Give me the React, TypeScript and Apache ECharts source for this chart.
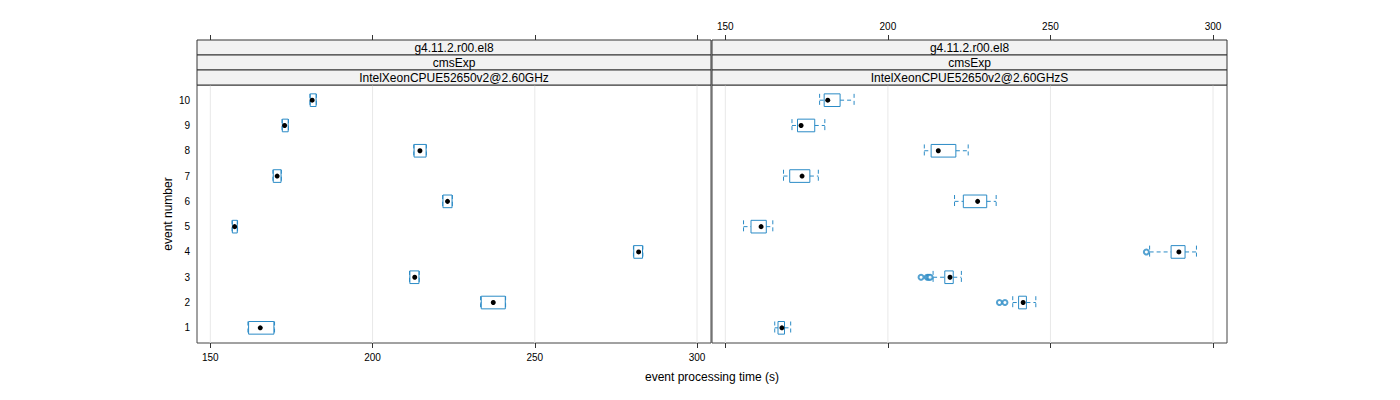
import React, { useEffect, useRef } from 'react';
import * as echarts from 'echarts';

const events = [1, 2, 3, 4, 5, 6, 7, 8, 9, 10];
const stripRows = ['g4.11.2.r00.el8', 'cmsExp'];
const panelNames = ['IntelXeonCPUE52650v2@2.60GHz', 'IntelXeonCPUE52650v2@2.60GHzS'];
const xTicks = [150, 200, 250, 300];
const xTitle = 'event processing time (s)';
const yTitle = 'event number';

// per event: [low whisker, q1, median, q3, high whisker]
const panel1Stats = [
  [161.6, 161.8, 165.4, 169.6, 169.8],
  [233.3, 233.5, 237.2, 240.9, 241.0],
  [211.4, 211.5, 213.0, 214.3, 214.4],
  [280.4, 280.5, 282.0, 283.2, 283.3],
  [156.7, 156.8, 157.5, 158.3, 158.4],
  [221.6, 221.7, 223.1, 224.5, 224.6],
  [169.3, 169.4, 170.6, 171.8, 171.9],
  [212.7, 212.8, 214.6, 216.5, 216.6],
  [172.1, 172.2, 172.9, 174.0, 174.1],
  [180.7, 180.8, 181.4, 182.6, 182.7],
];
const panel2Stats = [
  [165.2, 166.2, 167.4, 168.2, 170.1],
  [238.4, 240.2, 241.6, 242.6, 245.5],
  [213.9, 217.5, 219.1, 220.1, 222.6],
  [280.5, 287.1, 289.5, 291.4, 294.9],
  [155.6, 157.9, 161.0, 162.6, 164.6],
  [220.5, 223.2, 227.6, 230.4, 233.3],
  [167.9, 169.8, 173.6, 176.0, 178.6],
  [211.2, 213.3, 215.5, 220.9, 224.7],
  [170.5, 172.2, 173.3, 177.5, 180.6],
  [179.0, 180.4, 181.5, 185.3, 189.6],
];
// [value, event]
const panel2Outliers = [
  [234.3, 2], [236.0, 2],
  [210.2, 3], [212.1, 3], [212.6, 3], [213.0, 3],
  [279.5, 4],
];

const XMIN = 145.9;
const XMAX = 304.3;
const YMIN = 0.4;
const YMAX = 10.6;
const BLUE = '#2b8bc6';
const FONT = '"Liberation Sans", Arial, Helvetica, sans-serif';

const GRID_TOP = 85;
const GRID_H = 258;
const PANELS = [
  { left: 197, width: 514 },
  { left: 712, width: 515 },
];
const STRIP_TOP = 40;
const STRIP_H = 15;

function renderBox(params: any, api: any) {
  const ev = api.value(0);
  const lo = api.coord([api.value(1), ev]);
  const q1 = api.coord([api.value(2), ev]);
  const md = api.coord([api.value(3), ev]);
  const q3 = api.coord([api.value(4), ev]);
  const hi = api.coord([api.value(5), ev]);
  const h = api.size([0, 0.5])[1];
  const y = md[1];
  const dash = { stroke: BLUE, lineWidth: 1, lineDash: [4, 3], fill: 'none' };
  return {
    type: 'group',
    children: [
      { type: 'line', shape: { x1: lo[0], y1: y, x2: q1[0], y2: y }, style: dash },
      { type: 'line', shape: { x1: q3[0], y1: y, x2: hi[0], y2: y }, style: dash },
      { type: 'line', shape: { x1: lo[0], y1: y - h / 2, x2: lo[0], y2: y + h / 2 }, style: dash },
      { type: 'line', shape: { x1: hi[0], y1: y - h / 2, x2: hi[0], y2: y + h / 2 }, style: dash },
      {
        type: 'rect',
        shape: { x: q1[0], y: y - h / 2, width: q3[0] - q1[0], height: h },
        style: { fill: 'none', stroke: BLUE, lineWidth: 1 },
      },
      { type: 'circle', shape: { cx: md[0], cy: y, r: 2.5 }, style: { fill: '#000' } },
    ],
  };
}

function renderGridLine(params: any, api: any) {
  const v = api.value(0);
  const p1 = api.coord([v, api.value(1)]);
  const p2 = api.coord([v, api.value(2)]);
  return {
    type: 'line',
    shape: { x1: p1[0], y1: p1[1], x2: p2[0], y2: p2[1] },
    style: { stroke: '#e8e8e8', lineWidth: 1 },
  };
}

export default function App() {
  const ref = useRef<HTMLDivElement>(null);
  useEffect(() => {
    document.body.style.margin = '0';
    if (!ref.current) return;
    const chart = echarts.init(ref.current, null, { renderer: 'svg' });

    const grid = PANELS.map((p) => ({
      left: p.left,
      top: GRID_TOP,
      width: p.width,
      height: GRID_H,
      show: true,
      borderColor: '#444',
      borderWidth: 1,
      backgroundColor: 'transparent',
      containLabel: false,
      outerBoundsMode: 'none',
    }));

    const xAxis: any[] = [];
    PANELS.forEach((p, g) => {
      const base = {
        type: 'value',
        gridIndex: g,
        min: XMIN,
        max: XMAX,
        axisLine: { show: false },
        splitLine: { show: false },
        axisTick: { show: true, customValues: xTicks, length: 5, lineStyle: { color: '#333' } },
      };
      xAxis.push({
        ...base,
        position: 'bottom',
        axisLabel: { show: g === 0, customValues: xTicks, fontSize: 10, color: '#000', margin: 9, fontFamily: FONT },
      });
      xAxis.push({
        ...base,
        position: 'top',
        offset: GRID_TOP - STRIP_TOP,
        axisLabel: { show: g === 1, customValues: xTicks, fontSize: 10, color: '#000', margin: 9, fontFamily: FONT },
      });
    });

    const yAxis = PANELS.map((p, g) => ({
      type: 'value',
      gridIndex: g,
      min: YMIN,
      max: YMAX,
      axisLine: { show: false },
      axisTick: { show: false },
      splitLine: { show: false },
      axisLabel: { show: g === 0, customValues: events, fontSize: 10, color: '#000', margin: 7, fontFamily: FONT },
    }));

    const gridLineData = xTicks.map((v) => [v, YMIN, YMAX]);
    const series: any[] = [];
    [panel1Stats, panel2Stats].forEach((stats, g) => {
      series.push({
        type: 'custom',
        xAxisIndex: g * 2,
        yAxisIndex: g,
        renderItem: renderGridLine,
        data: gridLineData,
        encode: { x: 0, y: [1, 2] },
        z: 1,
        silent: true,
      });
      series.push({
        type: 'custom',
        xAxisIndex: g * 2,
        yAxisIndex: g,
        renderItem: renderBox,
        data: stats.map((s, i) => [events[i], ...s]),
        encode: { x: [1, 2, 3, 4, 5], y: 0 },
        z: 3,
      });
    });
    series.push({
      type: 'scatter',
      xAxisIndex: 2,
      yAxisIndex: 1,
      data: panel2Outliers,
      symbol: 'emptyCircle',
      symbolSize: 5,
      itemStyle: { color: BLUE, borderColor: BLUE, borderWidth: 1 },
      z: 4,
    });

    const graphic: any[] = [];
    PANELS.forEach((p, g) => {
      const labels = [...stripRows, panelNames[g]];
      labels.forEach((txt, r) => {
        const y = STRIP_TOP + r * STRIP_H;
        graphic.push({
          type: 'rect',
          shape: { x: p.left, y, width: p.width, height: STRIP_H },
          style: { fill: '#f2f2f2', stroke: '#333', lineWidth: 1 },
          z: 10,
        });
        graphic.push({
          type: 'text',
          x: p.left + p.width / 2,
          y: y + STRIP_H / 2 + 0.5,
          style: {
            text: txt,
            fontSize: 12,
            fontFamily: FONT,
            fill: '#000',
            align: 'center',
            verticalAlign: 'middle',
            textAlign: 'center',
            textVerticalAlign: 'middle',
          },
          z: 11,
        });
      });
    });
    graphic.push({
      type: 'text',
      x: 712,
      y: 377,
      style: {
        text: xTitle, fontSize: 12, fontFamily: FONT, fill: '#000',
        align: 'center', verticalAlign: 'middle', textAlign: 'center', textVerticalAlign: 'middle',
      },
    });
    graphic.push({
      type: 'text',
      x: 168,
      y: 214,
      rotation: Math.PI / 2,
      style: {
        text: yTitle, fontSize: 12, fontFamily: FONT, fill: '#000',
        align: 'center', verticalAlign: 'middle', textAlign: 'center', textVerticalAlign: 'middle',
      },
    });

    chart.setOption({
      animation: false,
      backgroundColor: '#fff',
      grid,
      xAxis,
      yAxis,
      series,
      graphic,
    });
    return () => chart.dispose();
  }, []);
  return <div ref={ref} style={{ width: 1400, height: 400 }} />;
}
